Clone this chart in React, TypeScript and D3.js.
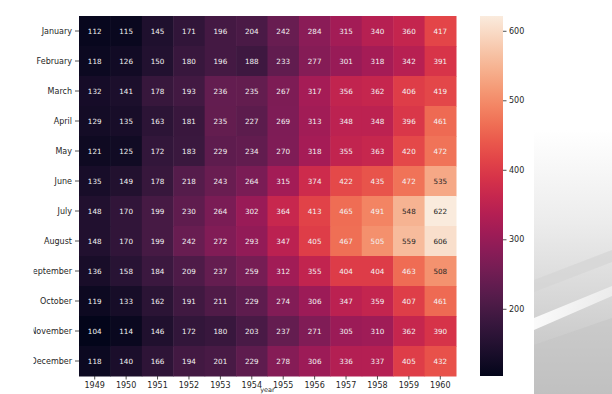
import React from "react";
import * as d3 from "d3";

const months = ["January","February","March","April","May","June","July","August","September","October","November","December"];
const years = ["1949","1950","1951","1952","1953","1954","1955","1956","1957","1958","1959","1960"];
// rows = months, columns = years
const passengers: number[][] = [
  [112,115,145,171,196,204,242,284,315,340,360,417],
  [118,126,150,180,196,188,233,277,301,318,342,391],
  [132,141,178,193,236,235,267,317,356,362,406,419],
  [129,135,163,181,235,227,269,313,348,348,396,461],
  [121,125,172,183,229,234,270,318,355,363,420,472],
  [135,149,178,218,243,264,315,374,422,435,472,535],
  [148,170,199,230,264,302,364,413,465,491,548,622],
  [148,170,199,242,272,293,347,405,467,505,559,606],
  [136,158,184,209,237,259,312,355,404,404,463,508],
  [119,133,162,191,211,229,274,306,347,359,407,461],
  [104,114,146,172,180,203,237,271,305,310,362,390],
  [118,140,166,194,201,229,278,306,336,337,405,432],
];
const colorbarTicks = [200, 300, 400, 500, 600];

const rocketStops = ["#03051a","#35193e","#701f57","#ad1759","#e13342","#f37651","#f6b48f","#faebdd"];

export default function App() {
  const W = 612, H = 394;
  const left = 79, top = 16, right = 456, bottom = 376;
  const all = passengers.flat();
  const vmin = d3.min(all)!, vmax = d3.max(all)!;
  const x = d3.scaleBand<string>().domain(years).range([left, right]).padding(0);
  const y = d3.scaleBand<string>().domain(months).range([top, bottom]).padding(0);
  const interp = d3.interpolateRgbBasis(rocketStops);
  const norm = d3.scaleLinear().domain([vmin, vmax]).range([0, 1]).clamp(true);
  const color = (v: number) => interp(norm(v));
  const lum = (c: string) => {
    const rgb = d3.rgb(c);
    const f = (u: number) => { u /= 255; return u <= 0.03928 ? u / 12.92 : Math.pow((u + 0.055) / 1.055, 2.4); };
    return 0.2126 * f(rgb.r) + 0.7152 * f(rgb.g) + 0.0722 * f(rgb.b);
  };
  const cbL = 480, cbR = 503;
  const cbY = d3.scaleLinear().domain([vmin, vmax]).range([bottom, top]);
  const gradStops = d3.range(0, 1.0001, 0.05);
  const textColor = "#262626";
  const font = "DejaVu Sans, sans-serif";

  return (
    <svg width={W} height={H} style={{ position: "absolute", left: 0, top: 0, background: "#fff" }} fontFamily={font}>
      <defs>
        <linearGradient id="cb" x1="0" y1="1" x2="0" y2="0">
          {gradStops.map((t) => (
            <stop key={t} offset={t} stopColor={interp(t)} />
          ))}
        </linearGradient>
        <linearGradient id="photo" x1="0" y1="0" x2="0" y2="1">
          <stop offset="0" stopColor="#ffffff" />
          <stop offset="0.35" stopColor="#ececec" />
          <stop offset="1" stopColor="#bdbdbd" />
        </linearGradient>
        <linearGradient id="streak" x1="0" y1="0" x2="1" y2="0">
          <stop offset="0" stopColor="#ffffff" stopOpacity={0.9} />
          <stop offset="1" stopColor="#ffffff" stopOpacity={0.5} />
        </linearGradient>
        <clipPath id="ylab">
          <rect x={33.5} y={0} width={60} height={H} />
        </clipPath>
      </defs>
      <rect x={534} y={130} width={78} height={264} fill="url(#photo)" />
      <polygon points="534,280 612,250 612,262 534,292" fill="#d4d4d4" opacity={0.7} />
      <polygon points="534,318 612,286 612,296 534,330" fill="url(#streak)" />
      <polygon points="534,345 612,318 612,394 534,394" fill="#c4c4c4" opacity={0.5} />

      {months.map((m, i) =>
        years.map((yr, j) => {
          const v = passengers[i][j];
          const c = color(v);
          return (
            <g key={m + yr}>
              <rect x={x(yr)!} y={y(m)!} width={x.bandwidth() + 0.5} height={y.bandwidth() + 0.5} fill={c} />
              <text
                x={x(yr)! + x.bandwidth() / 2}
                y={y(m)! + y.bandwidth() / 2}
                textAnchor="middle"
                dominantBaseline="central"
                fontSize={7.2}
                fill={lum(c) > 0.408 ? textColor : "#f2f2f2"}
              >
                {v}
              </text>
            </g>
          );
        })
      )}

      <g clipPath="url(#ylab)">
        {months.map((m) => (
          <text key={m} x={left - 7} y={y(m)! + y.bandwidth() / 2} textAnchor="end" dominantBaseline="central" fontSize={8} fill={textColor}>
            {m}
          </text>
        ))}
      </g>
      {months.map((m) => (
        <line key={m} x1={left - 4} x2={left} y1={y(m)! + y.bandwidth() / 2} y2={y(m)! + y.bandwidth() / 2} stroke={textColor} strokeWidth={0.8} />
      ))}
      {years.map((yr) => (
        <g key={yr}>
          <line x1={x(yr)! + x.bandwidth() / 2} x2={x(yr)! + x.bandwidth() / 2} y1={bottom} y2={bottom + 3.5} stroke={textColor} strokeWidth={0.8} />
          <text x={x(yr)! + x.bandwidth() / 2} y={bottom + 9.5} textAnchor="middle" dominantBaseline="central" fontSize={8} fill={textColor}>
            {yr}
          </text>
        </g>
      ))}
      <text x={(left + right) / 2} y={392} textAnchor="middle" fontSize={6.5} fill={textColor}>
        year
      </text>

      <rect x={cbL} y={top} width={cbR - cbL} height={bottom - top} fill="url(#cb)" />
      {colorbarTicks.map((t) => (
        <g key={t}>
          <line x1={cbR} x2={cbR + 3.5} y1={cbY(t)} y2={cbY(t)} stroke={textColor} strokeWidth={0.8} />
          <text x={cbR + 6} y={cbY(t)} dominantBaseline="central" fontSize={8} fill={textColor}>
            {t}
          </text>
        </g>
      ))}
    </svg>
  );
}
